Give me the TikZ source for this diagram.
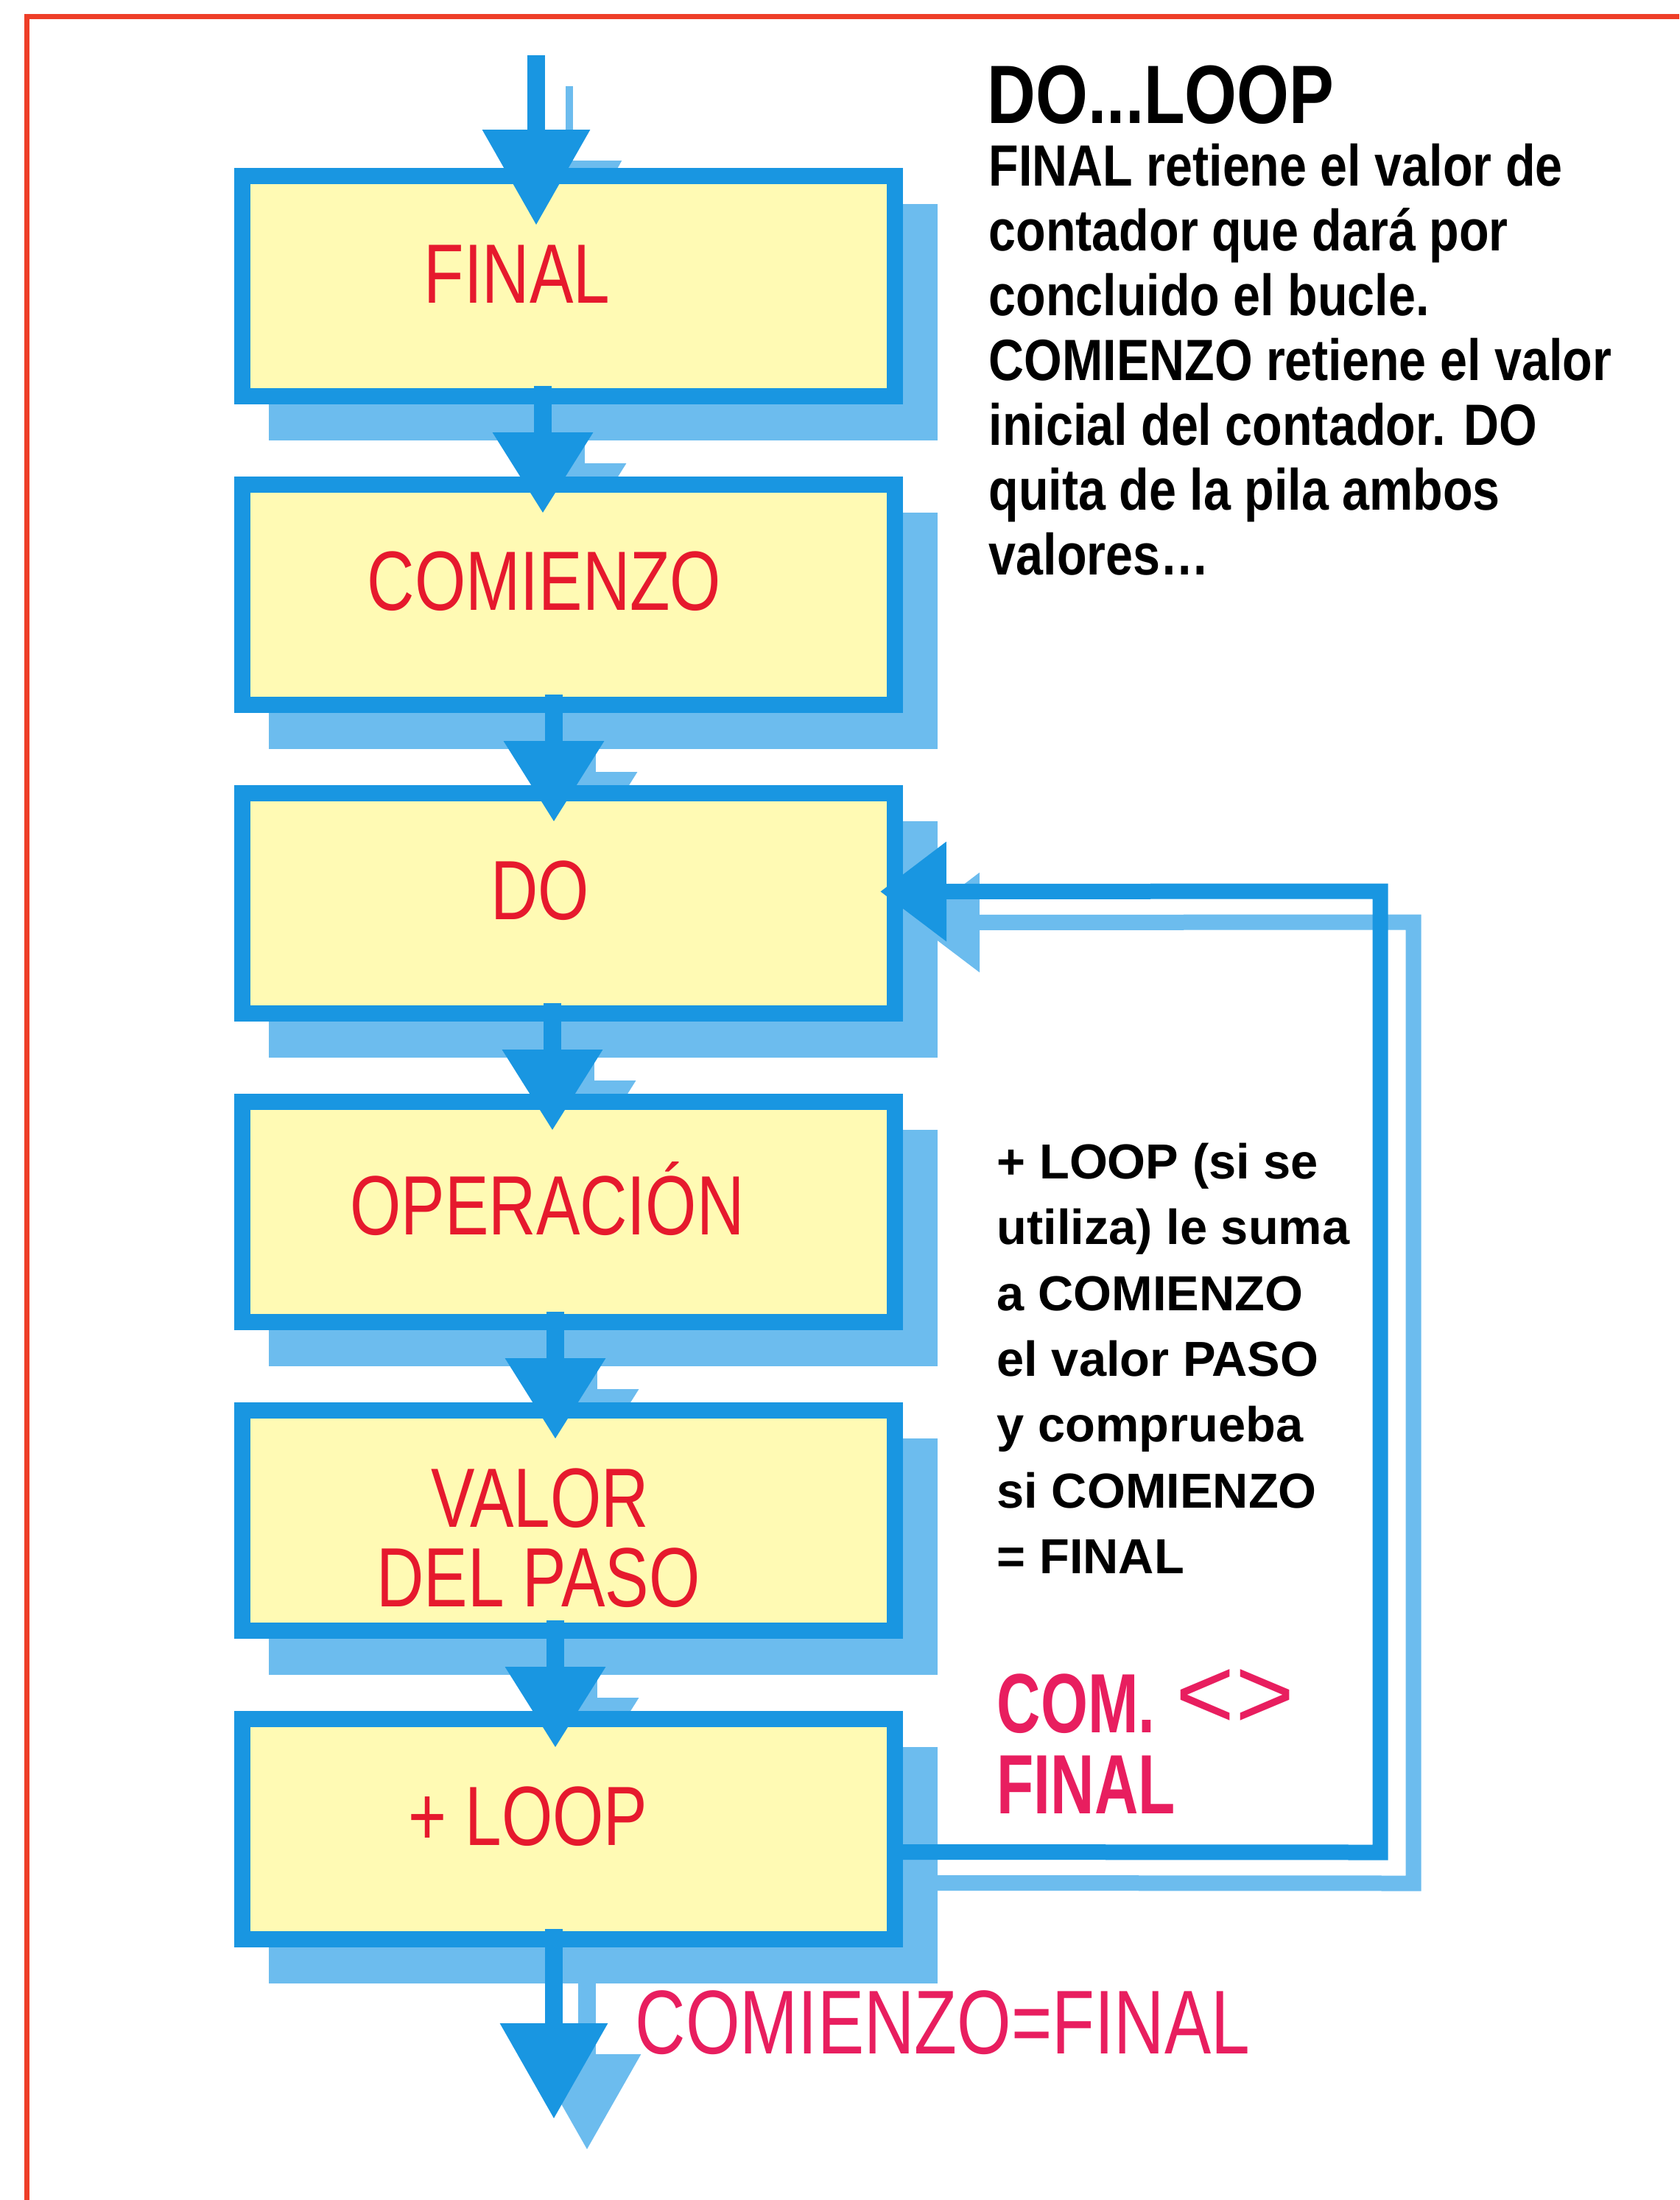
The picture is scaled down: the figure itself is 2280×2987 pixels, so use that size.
\documentclass[tikz,border=0pt]{standalone}
\usepackage{fontspec}
\setmainfont{Liberation Sans}
\newfontfamily\boxfont{Liberation Sans}[FakeStretch=0.78]
\newfontfamily\eqfont{Liberation Sans}[FakeStretch=0.77]
\newfontfamily\titlefont{Liberation Sans}[FakeStretch=0.81]
\newfontfamily\parfont{Liberation Sans}[FakeStretch=0.84]
\newfontfamily\condfont{Liberation Sans}[FakeStretch=0.72]
\newfontfamily\chevfont{Liberation Sans}
\usetikzlibrary{arrows.meta,calc}
\pgfdeclarelayer{bg}
\pgfsetlayers{bg,main}
\definecolor{flowblue}{RGB}{25,150,225}
\definecolor{shadeblue}{RGB}{108,188,238}
\definecolor{boxfill}{RGB}{255,250,180}
\definecolor{labelred}{RGB}{230,25,45}
\definecolor{condpink}{RGB}{232,30,95}
\definecolor{framered}{RGB}{238,62,40}
\tikzset{
  flowbox/.style={draw=flowblue, line width=2.2mm, fill=boxfill, minimum width=88.6mm, minimum height=29.9mm, inner sep=0pt, outer sep=0pt},
  boxlabel/.style={anchor=base, inner sep=0pt, text=labelred, font=\boxfont\fontsize{32.5}{32.5}\selectfont},
  headtxt/.style={anchor=base west, inner sep=0pt, font=\parfont\bfseries\fontsize{22.5}{22.5}\selectfont},
  sidetxt/.style={anchor=base west, inner sep=0pt, font=\bfseries\fontsize{19}{19}\selectfont},
  condtxt/.style={anchor=base west, inner sep=0pt, text=condpink, font=\condfont\bfseries\fontsize{32.5}{32.5}\selectfont},
  flowarrow/.style={draw=flowblue, line width=2.4mm, -{Triangle[width=13mm,length=11mm]}},
  looparrow/.style={draw=flowblue, line width=2.1mm, line join=miter, -{Triangle[width=13mm,length=9mm]}},
  shadowshift/.style={transform canvas={shift={(4.5mm,-4.2mm)}}}
}
\begin{document}
\begin{tikzpicture}[x=0.1mm,y=-0.1mm]
\useasboundingbox (0,0) rectangle (2280,2987);
% frame
\draw[framered, line width=0.7mm] (2280,22) -- (36,22) -- (36,2987);
% boxes
\node[flowbox] (b1) at (772,388.5) {};
\node[flowbox] (b2) at (772,807.5) {};
\node[flowbox] (b3) at (772,1226.5) {};
\node[flowbox] (b4) at (772,1645.5) {};
\node[flowbox] (b5) at (772,2064.5) {};
\node[flowbox] (b6) at (772,2483.5) {};
% labels
\node[boxlabel] (t1) at (702,411) {FINAL};
\node[boxlabel] (t2) at (739,828) {COMIENZO};
\node[boxlabel] (t3) at (733,1248) {DO};
\node[boxlabel] (t4) at (743,1676) {OPERACIÓN};
\node[boxlabel] (t5a) at (733,2073) {VALOR};
\node[boxlabel] (t5b) at (731,2181) {DEL PASO};
\node[boxlabel] (t6) at (717,2505) {+ LOOP};
% coordinates
\coordinate (in) at (728,75);
\coordinate (out) at (752,2877);
\coordinate (lbr) at (1874,2515);
\coordinate (ltr) at (1874,1210);
% shadows
\begin{pgfonlayer}{bg}
\foreach \b in {b1,b2,b3,b4,b5,b6}{
  \fill[shadeblue] ($(\b.north west)+(36,38)$) rectangle ($(\b.south east)+(58,60)$);
}
\begin{scope}[shadowshift]
\draw[flowarrow, draw=shadeblue, line width=1.0mm, -{Triangle[width=14mm,length=13mm]}] (in) -- ($(b1.north)+(-44,67)$);
\draw[flowarrow, draw=shadeblue] ($(b1.south)+(-35,-14)$) -- ($(b2.north)+(-35,39)$);
\draw[flowarrow, draw=shadeblue] ($(b2.south)+(-20,-14)$) -- ($(b3.north)+(-20,39)$);
\draw[flowarrow, draw=shadeblue] ($(b3.south)+(-22,-14)$) -- ($(b4.north)+(-22,39)$);
\draw[flowarrow, draw=shadeblue] ($(b4.south)+(-18,-14)$) -- ($(b5.north)+(-18,39)$);
\draw[flowarrow, draw=shadeblue] ($(b5.south)+(-18,-14)$) -- ($(b6.north)+(-18,39)$);
\draw[flowarrow, draw=shadeblue, -{Triangle[width=14mm,length=13mm]}] ($(b6.south)+(-20,-14)$) -- (out);
\draw[looparrow, draw=shadeblue] ($(b6.east)+(0,31)$) -- (lbr) -- (ltr) -- ($(b3.east)+(-20,-16)$);
\end{scope}
\end{pgfonlayer}
% arrows
\draw[flowarrow, -{Triangle[width=14mm,length=13mm]}] (in) -- ($(b1.north)+(-44,67)$);
\draw[flowarrow] ($(b1.south)+(-35,-14)$) -- ($(b2.north)+(-35,39)$);
\draw[flowarrow] ($(b2.south)+(-20,-14)$) -- ($(b3.north)+(-20,39)$);
\draw[flowarrow] ($(b3.south)+(-22,-14)$) -- ($(b4.north)+(-22,39)$);
\draw[flowarrow] ($(b4.south)+(-18,-14)$) -- ($(b5.north)+(-18,39)$);
\draw[flowarrow] ($(b5.south)+(-18,-14)$) -- ($(b6.north)+(-18,39)$);
\draw[flowarrow, -{Triangle[width=14mm,length=13mm]}] ($(b6.south)+(-20,-14)$) -- (out);
\draw[looparrow] ($(b6.east)+(0,31)$) -- (lbr) -- (ltr) -- ($(b3.east)+(-20,-16)$);
% header text
\node[anchor=base west, inner sep=0pt, font=\titlefont\bfseries\fontsize{32}{32}\selectfont] (title) at (1340,167) {DO...LOOP};
\node[headtxt] (h1) at (1342,252) {FINAL retiene el valor de};
\node[headtxt] (h2) at (1342,340) {contador que dará por};
\node[headtxt] (h3) at (1342,428) {concluido el bucle.};
\node[headtxt] (h4) at (1342,516) {COMIENZO retiene el valor};
\node[headtxt] (h5) at (1342,604) {inicial del contador. DO};
\node[headtxt] (h6) at (1342,692) {quita de la pila ambos};
\node[headtxt] (h7) at (1342,780) {valores…};
% side text
\node[sidetxt] (r1) at (1353,1600) {+ LOOP (si se};
\node[sidetxt] (r2) at (1353,1689) {utiliza) le suma};
\node[sidetxt] (r3) at (1353,1779) {a COMIENZO};
\node[sidetxt] (r4) at (1353,1868) {el valor PASO};
\node[sidetxt] (r5) at (1353,1957) {y comprueba};
\node[sidetxt] (r6) at (1353,2047) {si COMIENZO};
\node[sidetxt] (r7) at (1353,2136) {= FINAL};
\node[condtxt] (c1) at (1353,2352) {COM.\kern0.25em{\chevfont\mdseries\fontsize{39}{39}\selectfont\raisebox{0.6mm}{<>}}};
\node[condtxt] (c2) at (1353,2462) {FINAL};
\node[anchor=base west, inner sep=0pt, text=condpink, font=\eqfont\fontsize{35}{35}\selectfont] (eq) at (862,2788) {COMIENZO=FINAL};
\end{tikzpicture}
\end{document}
